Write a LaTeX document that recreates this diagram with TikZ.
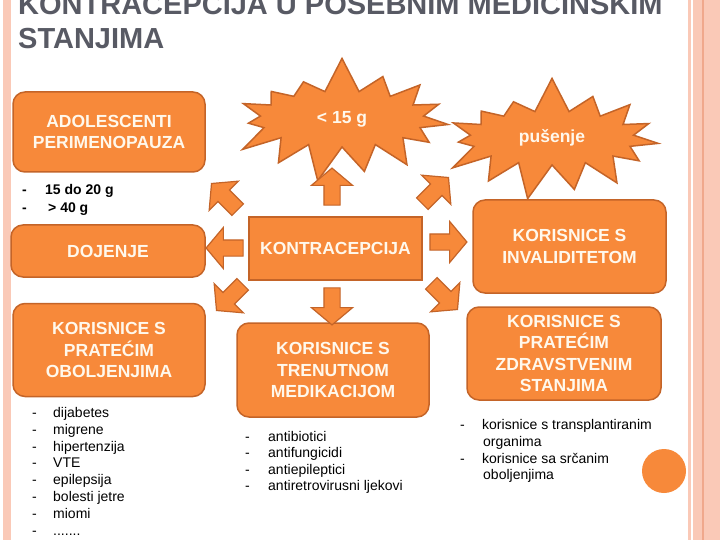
\documentclass[tikz,border=0pt]{standalone}
\usepackage{fontspec}
\setmainfont{Liberation Sans}
\usetikzlibrary{shapes.symbols,shapes.arrows}
\definecolor{boxfill}{RGB}{247,137,58}
\definecolor{boxline}{RGB}{196,100,40}
\definecolor{boxtext}{RGB}{255,248,236}
\definecolor{titlegray}{RGB}{88,90,100}
\definecolor{rimpink}{RGB}{250,201,183}
\definecolor{rimline}{RGB}{240,168,140}

\begin{document}
\begin{tikzpicture}[x=1pt,y=1pt,
  rbox/.style={draw=boxline,fill=boxfill,line width=1.5pt,rounded corners=12pt,align=center,text=boxtext,font=\fontsize{17.5}{21.5}\selectfont\bfseries},
  burst/.style={starburst,draw=boxline,fill=boxfill,line width=1.5pt,text=boxtext,font=\fontsize{17.5}{21}\selectfont\bfseries,starburst points=15,starburst point height=36pt,random starburst=7},
  blockarrow/.style={single arrow,draw=boxline,fill=boxfill,line width=1.2pt,inner sep=7.5pt,minimum height=37pt,single arrow head extend=12.5pt,single arrow tip angle=100},
  listtext/.style={anchor=base west,font=\fontsize{14}{16.8}\selectfont}]
\tikzstyle{every node}+=[inner sep=0pt]
\useasboundingbox (0,0) rectangle (720,-540);
\fill [white] (0,0) rectangle (720,-540);
\clip (0,0) rectangle (720,-540);
\fill [rimpink] (3,0) rectangle (11,-540);
\fill [rimpink] (688,0) rectangle (691,-540);
\fill [rimpink] (693,0) rectangle (720,-540);
\fill [rimline] (702,0) rectangle (703.5,-540);
\node (title1) [anchor=base west,text=titlegray,font=\fontsize{29}{34}\selectfont\bfseries] at (18,-15) {KONTRACEPCIJA U POSEBNIM MEDICINSKIM};
\node (title2) [anchor=base west,text=titlegray,font=\fontsize{29}{34}\selectfont\bfseries] at (18,-49) {STANJIMA};
\node (malo) [burst,minimum width=236pt,minimum height=128pt] at (342,-119) {< 15 g};
\node (pusenje) [burst,minimum width=236pt,minimum height=126pt] at (552,-138) {pušenje};
\node (adol) [rbox,minimum width=192pt,minimum height=80pt] at (109,-132) {ADOLESCENTI\\PERIMENOPAUZA};
\node (doj) [rbox,minimum width=194pt,minimum height=52pt] at (108,-251) {DOJENJE};
\node (obolj) [rbox,minimum width=192pt,minimum height=93pt] at (109,-350) {KORISNICE S\\PRATEĆIM\\OBOLJENJIMA};
\node (kontra) [rbox,rounded corners=0pt,minimum width=173pt,minimum height=63pt] at (335.5,-248.5) {KONTRACEPCIJA};
\node (medik) [rbox,minimum width=192pt,minimum height=94pt] at (333,-370) {KORISNICE S\\TRENUTNOM\\MEDIKACIJOM};
\node (inval) [rbox,minimum width=193pt,minimum height=93pt] at (569.5,-246.5) {KORISNICE S\\INVALIDITETOM};
\node (zdrav) [rbox,minimum width=194pt,minimum height=93pt] at (564,-353.5) {KORISNICE S\\PRATEĆIM\\ZDRAVSTVENIM\\STANJIMA};
\node (arN) [blockarrow,rotate=90] at (332,-190) {};
\node (arS) [blockarrow,rotate=-90] at (332,-303) {};
\node (arW) [blockarrow,rotate=180] at (228,-248) {};
\node (arE) [blockarrow] at (445,-242) {};
\node (arNW) [blockarrow,rotate=135] at (227,-199) {};
\node (arNE) [blockarrow,rotate=45] at (433,-193) {};
\node (arSW) [blockarrow,rotate=-135] at (232,-295) {};
\node (arSE) [blockarrow,rotate=-45] at (442,-294) {};
\node (dot) [circle,fill=boxfill,minimum size=44pt] at (664,-471) {};
\node (g1d) [listtext,font=\fontsize{14}{16.8}\selectfont\bfseries] at (22,-195) {-};
\node (g1) [listtext,font=\fontsize{14}{16.8}\selectfont\bfseries] at (45,-195) {15 do 20 g};
\node (g2d) [listtext,font=\fontsize{14}{16.8}\selectfont\bfseries] at (22,-212) {-};
\node (g2) [listtext,font=\fontsize{14}{16.8}\selectfont\bfseries] at (48,-212) {> 40 g};
\node (o1d) [listtext] at (32,-417) {-};
\node (o1) [listtext] at (53,-417) {dijabetes};
\node (o2d) [listtext] at (32,-434) {-};
\node (o2) [listtext] at (53,-434) {migrene};
\node (o3d) [listtext] at (32,-451) {-};
\node (o3) [listtext] at (53,-451) {hipertenzija};
\node (o4d) [listtext] at (32,-467.5) {-};
\node (o4) [listtext] at (53,-467.5) {VTE};
\node (o5d) [listtext] at (32,-484.5) {-};
\node (o5) [listtext] at (53,-484.5) {epilepsija};
\node (o6d) [listtext] at (32,-501.5) {-};
\node (o6) [listtext] at (53,-501.5) {bolesti jetre};
\node (o7d) [listtext] at (32,-518) {-};
\node (o7) [listtext] at (53,-518) {miomi};
\node (o8d) [listtext] at (32,-535) {-};
\node (o8) [listtext] at (53,-535) {.......};
\node (m1d) [listtext] at (245,-441) {-};
\node (m1) [listtext] at (268,-441) {antibiotici};
\node (m2d) [listtext] at (245,-457.5) {-};
\node (m2) [listtext] at (268,-457.5) {antifungicidi};
\node (m3d) [listtext] at (245,-474) {-};
\node (m3) [listtext] at (268,-474) {antiepileptici};
\node (m4d) [listtext] at (245,-490.5) {-};
\node (m4) [listtext] at (268,-490.5) {antiretrovirusni ljekovi};
\node (z1d) [listtext] at (460,-429) {-};
\node (z1) [listtext] at (482,-429) {korisnice s transplantiranim};
\node (z2) [listtext] at (483,-446) {organima};
\node (z3d) [listtext] at (460,-463) {-};
\node (z3) [listtext] at (482,-463) {korisnice sa srčanim};
\node (z4) [listtext] at (483,-479) {oboljenjima};
\end{tikzpicture}
\end{document}
